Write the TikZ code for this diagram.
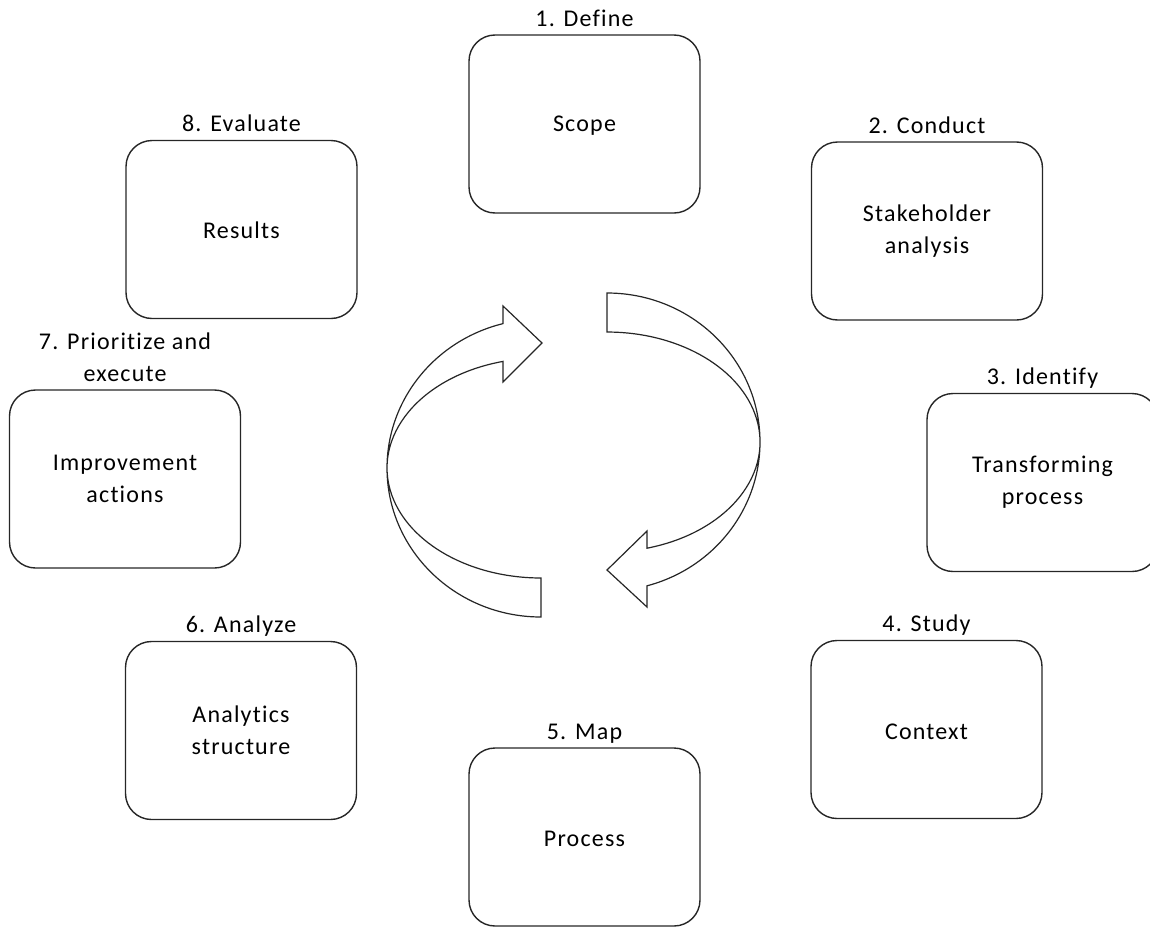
\documentclass[tikz,border=0pt]{standalone}
\usepackage{fontspec}
\setmainfont{Carlito}[LetterSpace=5, Ligatures=NoCommon]
\begin{document}
\begin{tikzpicture}[x=1pt,y=1pt,
  stepbox/.style={draw=black!85, line width=1.4pt, rounded corners=26pt,
    minimum width=231pt, minimum height=178pt, inner sep=0pt},
  txt/.style={font=\fontsize{24}{32}\selectfont, align=center, inner sep=0pt},
  lab/.style={font=\fontsize{24}{32}\selectfont, align=center, inner sep=0pt},
  cyclearrow/.style={draw=black!85, line width=1.2pt, fill=white, line join=miter}]
\useasboundingbox (0,0) rectangle (1150,-926);
\clip (0,0) rectangle (1150,-926);

% the eight stage boxes
\node[stepbox] (b1) at (584.5,-124)   {};
\node[stepbox] (b2) at (927,-231)     {};
\node[stepbox] (b3) at (1042.5,-482.5){};
\node[stepbox] (b4) at (926.5,-729.5) {};
\node[stepbox] (b5) at (584.5,-837)   {};
\node[stepbox] (b6) at (241,-730.5)   {};
\node[stepbox] (b7) at (125,-479)     {};
\node[stepbox] (b8) at (241.5,-229.5) {};

% texts inside the boxes
\node[txt] (s1) at ([yshift=-2pt]b1.center) {Scope};
\node[txt] (s2) at (b2.center) {Stakeholder\\analysis};
\node[txt] (s3) at (b3.center) {Transforming\\process};
\node[txt] (s4) at ([yshift=-2pt]b4.center) {Context};
\node[txt] (s5) at ([yshift=-2pt]b5.center) {Process};
\node[txt] (s6) at (b6.center) {Analytics\\structure};
\node[txt] (s7) at (b7.center) {Improvement\\actions};
\node[txt] (s8) at ([yshift=-1pt]b8.center) {Results};

% step titles above the boxes
\node[lab, anchor=base] (l1) at ([yshift=8pt]b1.north) {1. Define};
\node[lab, anchor=base] (l2) at ([yshift=8pt]b2.north) {2. Conduct};
\node[lab, anchor=base] (l3) at ([yshift=8pt]b3.north) {3. Identify};
\node[lab, anchor=base] (l4) at ([yshift=8pt]b4.north) {4. Study};
\node[lab, anchor=base] (l5) at ([yshift=8pt]b5.north) {5. Map};
\node[lab, anchor=base] (l6) at ([yshift=8pt]b6.north) {6. Analyze};
\node[lab, anchor=south] (l7) at ([yshift=7pt]b7.north) {7. Prioritize and\\execute};
\node[lab, anchor=base] (l8) at ([yshift=8pt]b8.north) {8. Evaluate};

% circular arrow, left half (points up)
\draw[cyclearrow] (541,-617)
  arc[start angle=270, end angle=104.3, x radius=154, y radius=149]
  -- (503,-306) -- (542,-343) -- (503,-382) -- (503,-361.4)
  arc[start angle=104.3, end angle=270, x radius=154, y radius=110]
  -- cycle;

% circular arrow, right half (points down)
\draw[cyclearrow] (607,-293)
  arc[start angle=90, end angle=-74.85, x radius=153, y radius=149]
  -- (647,-607) -- (607,-570) -- (647,-531) -- (647,-548.2)
  arc[start angle=-74.85, end angle=90, x radius=153, y radius=110]
  -- cycle;
\end{tikzpicture}
\end{document}
